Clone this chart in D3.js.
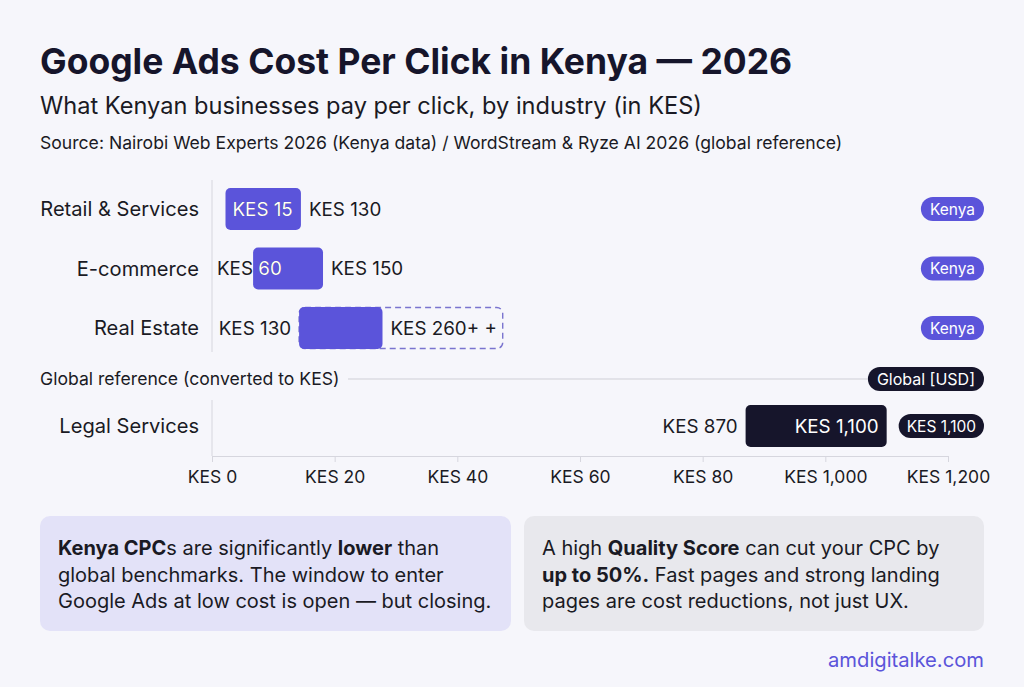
<!DOCTYPE html>
<html><head><meta charset="utf-8">
<script src="https://cdn.jsdelivr.net/npm/d3@7/dist/d3.min.js"></script>
<style>
html,body{margin:0;padding:0;background:#f6f6fb;}
svg{display:block;font-family:Inter,"Noto Sans",sans-serif;}
</style></head>
<body><svg id="c" width="1024" height="687"></svg>
<script>
// ---- data ----
const kenyaCategories = ["Retail & Services", "E-commerce", "Real Estate"];
const kenyaLow = [22, 67, 142];          // bar start (KES)
const kenyaHigh = [145, 181, 278];       // bar end
const kenyaLowLabels = ["KES 15", "KES 60", "KES 130"];
const kenyaHighLabels = ["KES 130", "KES 150", "KES 260+ +"];
const kenyaExtension = [null, null, 474]; // dashed "+" extension end
const globalCategories = ["Legal Services"];
const globalLow = [870];
const globalHigh = [1100];
const globalLowLabels = ["KES 870"];
const globalHighLabels = ["KES 1,100"];
const globalPills = ["KES 1,100"];
const tickValues = [0, 200, 400, 600, 800, 1000, 1200];
const tickLabels = ["KES 0", "KES 20", "KES 40", "KES 60", "KES 80", "KES 1,000", "KES 1,200"];

// ---- styles ----
const PURPLE = "#5b54da", DARK = "#16152b", TEXT = "#1a1a24";
const LBL = 18.8;
const svg = d3.select("#c");
const x = d3.scaleLinear().domain([0, 1200]).range([212, 948]);
const yK = d3.scalePoint().domain(kenyaCategories).range([209, 328]);
const yG = d3.scalePoint().domain(globalCategories).range([426, 426]);
const BH = 42;

// titles
svg.append("text").attr("x", 40).attr("y", 74).attr("font-size", 35.5).attr("font-weight", 700)
  .attr("fill", DARK).text("Google Ads Cost Per Click in Kenya — 2026");
svg.append("text").attr("x", 40).attr("y", 114).attr("font-size", 23.6).attr("fill", TEXT)
  .text("What Kenyan businesses pay per click, by industry (in KES)");
svg.append("text").attr("x", 40).attr("y", 149).attr("font-size", 17.6).attr("fill", TEXT)
  .text("Source: Nairobi Web Experts 2026 (Kenya data) / WordStream & Ryze AI 2026 (global reference)");

// axis lines
svg.append("line").attr("x1", x(0)).attr("x2", x(0)).attr("y1", 180).attr("y2", 352).attr("stroke", "#d6d6de");
svg.append("line").attr("x1", x(0)).attr("x2", x(0)).attr("y1", 400).attr("y2", 456).attr("stroke", "#d6d6de");

const axis = d3.axisBottom(x).tickValues(tickValues).tickFormat((d, i) => tickLabels[i]).tickSize(6).tickPadding(9);
const ag = svg.append("g").attr("transform", "translate(0,456)").call(axis);
ag.select(".domain").attr("stroke", "#d6d6de");
ag.selectAll(".tick line").attr("stroke", "#d6d6de");
ag.selectAll(".tick text").attr("font-size", 17.5).attr("fill", TEXT).attr("font-family", "Inter,'Noto Sans',sans-serif");

// category labels
function catLabels(cats, y) {
  svg.selectAll(null).data(cats).enter().append("text")
    .attr("x", 199).attr("y", d => y(d)).attr("dy", "0.35em").attr("text-anchor", "end")
    .attr("font-size", 20.1).attr("fill", TEXT).text(d => d);
}
catLabels(kenyaCategories, yK);
catLabels(globalCategories, yG);

// dashed extensions
kenyaCategories.forEach((c, i) => {
  if (kenyaExtension[i] == null) return;
  svg.append("rect").attr("x", x(kenyaLow[i])).attr("y", yK(c) - BH / 2 + 0.5)
    .attr("width", x(kenyaExtension[i]) - x(kenyaLow[i])).attr("height", BH - 1).attr("rx", 6)
    .attr("fill", "none").attr("stroke", "#7a74cf").attr("stroke-width", 1.4).attr("stroke-dasharray", "6,4");
});

// kenya bars
const defs = svg.append("defs");
kenyaCategories.forEach((c, i) => {
  const x0 = x(kenyaLow[i]), x1 = x(kenyaHigh[i]), yc = yK(c);
  svg.append("rect").attr("x", x0).attr("y", yc - BH / 2).attr("width", x1 - x0).attr("height", BH)
    .attr("rx", 5).attr("fill", PURPLE);
  defs.append("clipPath").attr("id", "clipk" + i).append("rect")
    .attr("x", x0).attr("y", yc - BH / 2).attr("width", x1 - x0).attr("height", BH);
  const tmp = svg.append("text").attr("font-size", LBL).text(kenyaLowLabels[i]);
  const w = tmp.node().getComputedTextLength(); tmp.remove();
  let lx;
  if (w + 12 <= x1 - x0 - 2) lx = x0 + 7;
  else if (x0 - 8 - w >= 216) lx = x0 - 8 - w;
  else lx = 217;
  svg.append("text").attr("x", lx).attr("y", yc).attr("dy", "0.35em").attr("font-size", LBL)
    .attr("fill", TEXT).text(kenyaLowLabels[i]);
  svg.append("text").attr("x", lx).attr("y", yc).attr("dy", "0.35em").attr("font-size", LBL)
    .attr("fill", "#fff").attr("clip-path", `url(#clipk${i})`).text(kenyaLowLabels[i]);
  svg.append("text").attr("x", x1 + 8).attr("y", yc).attr("dy", "0.35em").attr("font-size", LBL)
    .attr("fill", TEXT).text(kenyaHighLabels[i]);
});

// pills
function pill(xr, yc, txt, fill, fs, padX) {
  const t = svg.append("text").attr("font-size", fs).text(txt);
  const w = t.node().getComputedTextLength() + padX * 2; t.remove();
  svg.append("rect").attr("x", xr - w).attr("y", yc - 12).attr("width", w).attr("height", 24)
    .attr("rx", 12).attr("fill", fill);
  svg.append("text").attr("x", xr - w / 2).attr("y", yc).attr("dy", "0.36em").attr("text-anchor", "middle")
    .attr("font-size", fs).attr("fill", "#fff").text(txt);
  return xr - w;
}
kenyaCategories.forEach(c => pill(984, yK(c), "Kenya", PURPLE, 15.5, 9));

// global reference divider
svg.append("text").attr("x", 40).attr("y", 379).attr("dy", "0.35em").attr("font-size", 17.6)
  .attr("fill", TEXT).text("Global reference (converted to KES)");
const gpx = pill(984, 379, "Global [USD]", DARK, 16, 9);
svg.append("line").attr("x1", 348).attr("x2", gpx).attr("y1", 379).attr("y2", 379)
  .attr("stroke", "#cfcfd6").attr("stroke-width", 1);

// global bars
globalCategories.forEach((c, i) => {
  const x0 = x(globalLow[i]), x1 = x(globalHigh[i]), yc = yG(c);
  svg.append("rect").attr("x", x0).attr("y", yc - BH / 2).attr("width", x1 - x0).attr("height", BH)
    .attr("rx", 5).attr("fill", DARK);
  svg.append("text").attr("x", x0 - 8).attr("y", yc).attr("dy", "0.35em").attr("text-anchor", "end")
    .attr("font-size", LBL).attr("fill", TEXT).text(globalLowLabels[i]);
  svg.append("text").attr("x", x1 - 8).attr("y", yc).attr("dy", "0.35em").attr("text-anchor", "end")
    .attr("font-size", LBL).attr("fill", "#fff").text(globalHighLabels[i]);
  pill(984, yc, globalPills[i], DARK, 15.5, 8);
});

// notes
function note(x0, w, fill, lines, tx) {
  svg.append("rect").attr("x", x0).attr("y", 516).attr("width", w).attr("height", 115).attr("rx", 10).attr("fill", fill);
  lines.forEach((segs, li) => {
    const t = svg.append("text").attr("x", tx).attr("y", 555 + li * 26.5).attr("font-size", 20).attr("fill", TEXT);
    segs.forEach(s => t.append("tspan").attr("font-weight", s[1] ? 700 : 400).text(s[0]));
  });
}
note(40, 471, "#e3e2f8", [
  [["Kenya CPC", 1], ["s are significantly ", 0], ["lower", 1], [" than", 0]],
  [["global benchmarks. The window to enter", 0]],
  [["Google Ads at low cost is open — but closing.", 0]]
], 58);
note(524, 460, "#e8e8ed", [
  [["A high ", 0], ["Quality Score", 1], [" can cut your CPC by", 0]],
  [["up to 50%.", 1], [" Fast pages and strong landing", 0]],
  [["pages are cost reductions, not just UX.", 0]]
], 542);

svg.append("text").attr("x", 984).attr("y", 667).attr("text-anchor", "end").attr("font-size", 20.2)
  .attr("fill", "#5b54da").text("amdigitalke.com");
</script></body></html>
